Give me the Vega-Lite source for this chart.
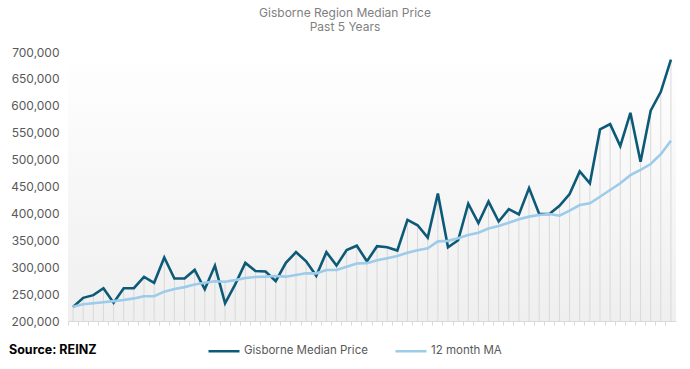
{
  "$schema": "https://vega.github.io/schema/vega-lite/v6.json",
  "autosize": {"type": "none"},
  "width": 608,
  "height": 269,
  "padding": {"left": 68, "top": 52, "right": 14, "bottom": 48},
  "background": "#ffffff",
  "config": {
    "view": {"stroke": null},
    "font": "Inter",
    "axis": {"labelFont": "Inter", "titleFont": "Inter"},
    "legend": {"labelFont": "Inter", "titleFont": "Inter"}
  },
  "title": {
    "text": ["Gisborne Region Median Price", "Past 5 Years"],
    "anchor": "middle",
    "dx": -27,
    "offset": 12,
    "fontSize": 12,
    "fontWeight": "normal",
    "lineHeight": 14,
    "color": "#808080",
    "font": "Inter"
  },
  "data": {
    "values": [
      {"m": 1, "price": 226000, "ma": 226600},
      {"m": 2, "price": 243000, "ma": 231000},
      {"m": 3, "price": 248000, "ma": 233000},
      {"m": 4, "price": 261000, "ma": 235000},
      {"m": 5, "price": 234000, "ma": 237000},
      {"m": 6, "price": 261000, "ma": 239000},
      {"m": 7, "price": 261000, "ma": 242000},
      {"m": 8, "price": 282000, "ma": 246000},
      {"m": 9, "price": 271000, "ma": 246000},
      {"m": 10, "price": 318000, "ma": 254500},
      {"m": 11, "price": 279000, "ma": 259500},
      {"m": 12, "price": 279000, "ma": 263000},
      {"m": 13, "price": 295000, "ma": 268000},
      {"m": 14, "price": 259000, "ma": 271000},
      {"m": 15, "price": 303000, "ma": 274000},
      {"m": 16, "price": 233000, "ma": 273000},
      {"m": 17, "price": 268000, "ma": 276000},
      {"m": 18, "price": 308000, "ma": 280000},
      {"m": 19, "price": 293000, "ma": 281800},
      {"m": 20, "price": 292000, "ma": 282400},
      {"m": 21, "price": 274000, "ma": 283600},
      {"m": 22, "price": 308000, "ma": 282400},
      {"m": 23, "price": 328000, "ma": 285500},
      {"m": 24, "price": 311000, "ma": 288600},
      {"m": 25, "price": 284000, "ma": 288600},
      {"m": 26, "price": 328000, "ma": 294800},
      {"m": 27, "price": 303000, "ma": 294800},
      {"m": 28, "price": 332000, "ma": 301000},
      {"m": 29, "price": 340000, "ma": 307000},
      {"m": 30, "price": 311000, "ma": 307500},
      {"m": 31, "price": 339000, "ma": 313000},
      {"m": 32, "price": 337000, "ma": 316500},
      {"m": 33, "price": 331000, "ma": 320800},
      {"m": 34, "price": 388000, "ma": 327000},
      {"m": 35, "price": 378000, "ma": 331400},
      {"m": 36, "price": 355000, "ma": 335000},
      {"m": 37, "price": 437000, "ma": 348000},
      {"m": 38, "price": 337000, "ma": 349000},
      {"m": 39, "price": 350000, "ma": 353700},
      {"m": 40, "price": 418000, "ma": 360000},
      {"m": 41, "price": 382000, "ma": 364000},
      {"m": 42, "price": 422000, "ma": 372000},
      {"m": 43, "price": 385000, "ma": 376600},
      {"m": 44, "price": 408000, "ma": 382700},
      {"m": 45, "price": 398000, "ma": 389000},
      {"m": 46, "price": 447000, "ma": 394000},
      {"m": 47, "price": 399000, "ma": 397000},
      {"m": 48, "price": 399000, "ma": 399000},
      {"m": 49, "price": 414000, "ma": 395700},
      {"m": 50, "price": 436000, "ma": 405000},
      {"m": 51, "price": 478000, "ma": 415600},
      {"m": 52, "price": 456000, "ma": 418700},
      {"m": 53, "price": 556000, "ma": 431000},
      {"m": 54, "price": 566000, "ma": 443500},
      {"m": 55, "price": 525000, "ma": 456000},
      {"m": 56, "price": 587000, "ma": 471000},
      {"m": 57, "price": 496000, "ma": 480700},
      {"m": 58, "price": 591000, "ma": 491800},
      {"m": 59, "price": 626000, "ma": 510000},
      {"m": 60, "price": 686000, "ma": 535000}
    ]
  },
  "encoding": {
    "x": {
      "field": "m",
      "type": "ordinal",
      "scale": {"type": "band", "paddingInner": 0, "paddingOuter": 0},
      "axis": {
        "labels": false,
        "title": null,
        "grid": false,
        "domainColor": "#d9d9d9",
        "tickColor": "#d9d9d9",
        "tickSize": 4,
        "bandPosition": 0
      }
    }
  },
  "layer": [
    {
      "data": {"values": [{}]},
      "mark": {
        "type": "rect",
        "fill": {
          "gradient": "linear",
          "x1": 0, "y1": 0, "x2": 0, "y2": 1,
          "stops": [
            {"offset": 0, "color": "#ffffff"},
            {"offset": 1, "color": "#efefef"}
          ]
        }
      },
      "encoding": {
        "x": null,
        "y": {
          "datum": 700000,
          "type": "quantitative",
          "scale": {"domain": [200000, 700000], "nice": false, "zero": false},
          "axis": {
            "title": null,
            "values": [200000, 250000, 300000, 350000, 400000, 450000, 500000, 550000, 600000, 650000, 700000],
            "tickCount": 11,
            "format": ",.0f",
            "grid": false,
            "domain": false,
            "ticks": false,
            "labelOverlap": false,
            "labelPadding": 9,
            "labelFontSize": 12,
            "labelColor": "#595959"
          }
        },
        "y2": {"datum": 200000}
      }
    },
    {
      "transform": [{"calculate": "max(datum.price, datum.ma)", "as": "top"}],
      "mark": {"type": "rule", "color": "#d9d9d9", "strokeWidth": 1},
      "encoding": {
        "y": {
          "field": "top",
          "type": "quantitative",
          "axis": {
            "title": null,
            "values": [200000, 250000, 300000, 350000, 400000, 450000, 500000, 550000, 600000, 650000, 700000],
            "tickCount": 11,
            "format": ",.0f",
            "grid": false,
            "domain": false,
            "ticks": false,
            "labelOverlap": false,
            "labelPadding": 9,
            "labelFontSize": 12,
            "labelColor": "#595959"
          }
        },
        "y2": {"datum": 200000}
      }
    },
    {
      "transform": [{"fold": ["price", "ma"], "as": ["series", "value"]}],
      "mark": {"type": "line", "strokeWidth": 2.6, "strokeJoin": "miter", "strokeCap": "butt"},
      "encoding": {
        "y": {
          "field": "value",
          "type": "quantitative",
          "axis": {
            "title": null,
            "values": [200000, 250000, 300000, 350000, 400000, 450000, 500000, 550000, 600000, 650000, 700000],
            "tickCount": 11,
            "format": ",.0f",
            "grid": false,
            "domain": false,
            "ticks": false,
            "labelOverlap": false,
            "labelPadding": 9,
            "labelFontSize": 12,
            "labelColor": "#595959"
          }
        },
        "color": {
          "field": "series",
          "type": "nominal",
          "scale": {"domain": ["price", "ma"], "range": ["#0c5a78", "#9dcbea"]},
          "legend": {
            "orient": "none",
            "legendX": -59,
            "legendY": 282,
            "direction": "horizontal",
            "title": "Source: REINZ",
            "titleOrient": "left",
            "titleAnchor": "end",
            "titleBaseline": "bottom",
            "titleFontSize": 12.5,
            "titleFontWeight": "bold",
            "titleColor": "#000000",
            "titlePadding": 110,
            "symbolType": "stroke",
            "symbolSize": 961,
            "symbolStrokeWidth": 2.5,
            "labelFontSize": 11.5,
            "labelColor": "#595959",
            "labelOffset": 3,
            "columnPadding": 22,
            "labelExpr": "datum.value == 'price' ? 'Gisborne Median Price' : '12 month MA'"
          }
        },
        "order": {"field": "m"}
      }
    }
  ]
}
